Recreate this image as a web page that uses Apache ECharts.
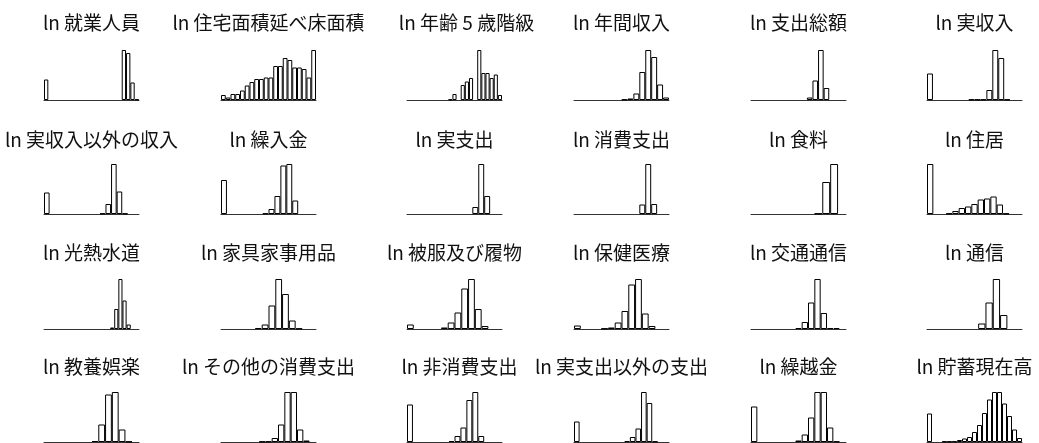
<!DOCTYPE html>
<html>
<head>
<meta charset="utf-8">
<script src="https://cdn.jsdelivr.net/npm/echarts@6/dist/echarts.min.js"></script>
<style>
  html, body { margin: 0; padding: 0; background: #fff; }
  #chart { width: 1039px; height: 443px; }
</style>
</head>
<body>
<div id="chart"></div>
<script>
// Histogram bin heights (relative frequency, tallest bin = 100) of each log-transformed variable.
const employed          = [41,0,0,0,0,0,0,0,0,0,0,0,0,0,0,0,0,0,100,94,35,1];
const floorArea         = [10,5,12,12,19,29,36,42,42,45,45,68,68,84,80,65,65,62,45,100];
const ageClass          = [0,0,0,0,0,0,0,0,0,0,1,12,0,30,37,44,0,100,54,54,44,51,10];
const annualIncome      = [0,0,0,0,0,0,0,0,1,3,13,56,100,86,31,5];
const totalExpenditure  = [0,0,0,0,0,0,0,0,0,0,5,39,100,24,0,0,0];
const actualIncome      = [53,0,0,0,0,0,0,1,1,1,20,100,84,1,0,0];
const otherReceipts     = [43,0,0,0,0,0,0,0,0,0,1,20,100,45,1,0,0];
const transfersIn       = [68,0,0,0,0,0,0,1,10,36,97,100,27,0,0,0];
const actualExpenditure = [0,0,0,0,0,0,0,0,0,0,0,14,100,36,0,0];
const consumption       = [0,0,0,0,0,0,0,0,0,0,0,19,100,20,0,0];
const food              = [0,0,0,0,0,0,0,0,1,64,100,0];
const housing           = [100,0,0,1,6,12,15,20,29,31,35,19,1,0,0];
const utilities         = [0,0,0,0,0,0,0,0,0,0,0,0,0,0,0,0,3,40,100,57,9,0,0];
const furniture         = [0,0,0,0,0,2,9,47,100,70,17,1,0,0];
const clothing          = [9,0,0,0,0,3,13,33,81,100,40,6,0,0];
const medical           = [7,0,0,0,1,3,13,36,89,100,31,6,0,0];
const transport         = [0,0,0,0,0,0,0,2,14,53,100,32,2,2,0];
const communication     = [0,0,0,0,0,0,0,11,53,100,28,0,0];
const recreation        = [0,0,0,0,0,0,0,2,35,95,100,25,1,0];
const otherConsumption  = [0,0,0,0,0,0,1,1,8,35,100,100,25,3,0];
const nonConsumption    = [75,0,0,0,0,0,0,2,12,29,84,100,12,0,0,0];
const otherPayments     = [41,0,0,0,0,0,0,0,0,2,10,27,100,78,1,0,0];
const carryOver         = [71,0,0,0,0,0,0,3,15,49,100,100,29,1,0];
const savings           = [57,0,0,1,1,1,4,7,10,20,34,58,85,100,100,77,52,25,8];

// Panel titles, row by row.
const titles = [
  'ln 就業人員', 'ln 住宅面積延べ床面積', 'ln 年齢 5 歳階級', 'ln 年間収入', 'ln 支出総額', 'ln 実収入',
  'ln 実収入以外の収入', 'ln 繰入金', 'ln 実支出', 'ln 消費支出', 'ln 食料', 'ln 住居',
  'ln 光熱水道', 'ln 家具家事用品', 'ln 被服及び履物', 'ln 保健医療', 'ln 交通通信', 'ln 通信',
  'ln 教養娯楽', 'ln その他の消費支出', 'ln 非消費支出', 'ln 実支出以外の支出', 'ln 繰越金', 'ln 貯蓄現在高'
];

const histograms = [
  employed, floorArea, ageClass, annualIncome, totalExpenditure, actualIncome,
  otherReceipts, transfersIn, actualExpenditure, consumption, food, housing,
  utilities, furniture, clothing, medical, transport, communication,
  recreation, otherConsumption, nonConsumption, otherPayments, carryOver, savings
];

// Small-multiple layout (pixels).
const colLeft = [44, 221, 407, 574, 751, 927];
const rowBase = [100, 214, 329, 442];
const titleY  = [23, 140, 253, 367];
const titleShift = { 2: 12, 20: 5 };
const plotW = 95, plotH = 50;

const grids = [], xAxes = [], yAxes = [], series = [], texts = [];

histograms.forEach((bins, i) => {
  const r = Math.floor(i / 6), c = i % 6;
  const left = colLeft[c];
  grids.push({ left: left, top: rowBase[r] - plotH, width: plotW, height: plotH, containLabel: false });
  xAxes.push({
    type: 'category', gridIndex: i, boundaryGap: true,
    data: bins.map((_, k) => k),
    axisLine: { show: true, lineStyle: { color: '#333', width: 1 } },
    axisTick: { show: false }, axisLabel: { show: false }, splitLine: { show: false }
  });
  yAxes.push({ type: 'value', gridIndex: i, min: 0, max: 'dataMax', show: false });
  series.push({
    type: 'bar', xAxisIndex: i, yAxisIndex: i, silent: true,
    barWidth: '100%',
    data: bins.map(v => (v > 0 ? v : null)),
    itemStyle: { color: '#fff', borderColor: '#000', borderWidth: 1 }
  });
  texts.push({
    type: 'text',
    x: left + plotW / 2 + (titleShift[i] || 0),
    y: titleY[r],
    style: {
      text: titles[i],
      font: '19px "Noto Sans CJK JP", sans-serif',
      fill: '#111',
      align: 'center', verticalAlign: 'middle',
      textAlign: 'center', textVerticalAlign: 'middle'
    }
  });
});

const chart = echarts.init(document.getElementById('chart'), null, { renderer: 'canvas' });
chart.setOption({
  animation: false,
  backgroundColor: '#fff',
  grid: grids,
  xAxis: xAxes,
  yAxis: yAxes,
  series: series,
  graphic: texts
});
</script>
</body>
</html>
